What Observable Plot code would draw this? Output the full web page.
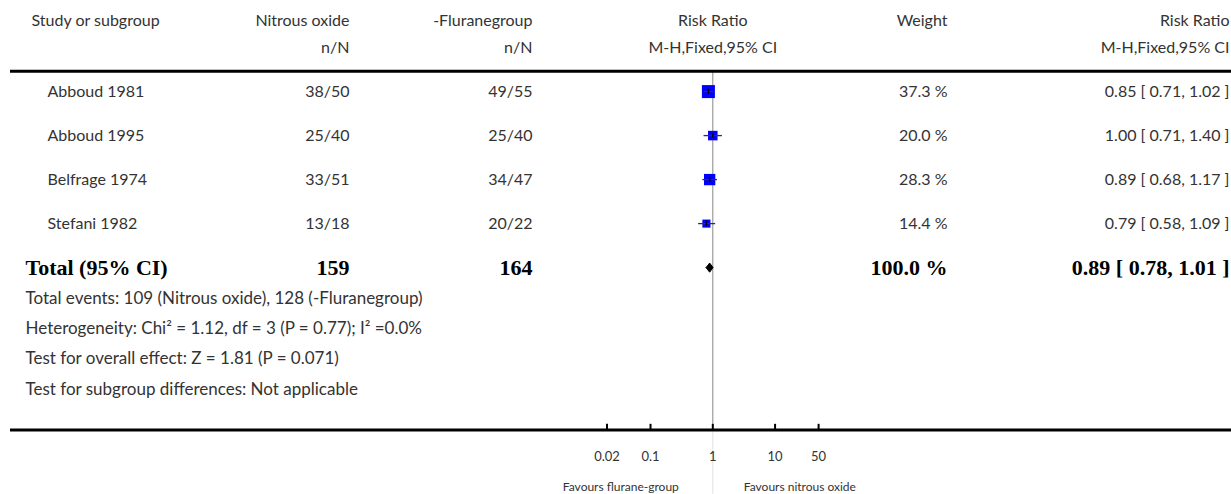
<!DOCTYPE html>
<html>
<head>
<meta charset="utf-8">
<script src="https://cdn.jsdelivr.net/npm/d3@7"></script>
<script src="https://cdn.jsdelivr.net/npm/@observablehq/plot@0.6"></script>
<style>
  html, body { margin: 0; padding: 0; background: #fff; }
  #chart svg { display: block; }
</style>
</head>
<body>
<div id="chart"></div>
<script>
// ---- data ----
const studies = ["Abboud 1981", "Abboud 1995", "Belfrage 1974", "Stefani 1982"];
const nitrousNN = ["38/50", "25/40", "33/51", "13/18"];
const fluraneNN = ["49/55", "25/40", "34/47", "20/22"];
const riskRatio = [0.85, 1.00, 0.89, 0.79];
const ciLow = [0.71, 0.71, 0.68, 0.58];
const ciHigh = [1.02, 1.40, 1.17, 1.09];
const weights = [37.3, 20.0, 28.3, 14.4];
const weightLabels = ["37.3 %", "20.0 %", "28.3 %", "14.4 %"];
const rrLabels = ["0.85 [ 0.71, 1.02 ]", "1.00 [ 0.71, 1.40 ]", "0.89 [ 0.68, 1.17 ]", "0.79 [ 0.58, 1.09 ]"];

const totalLabel = "Total (95% CI)";
const totalNitrous = "159";
const totalFlurane = "164";
const totalRR = 0.89, totalLow = 0.78, totalHigh = 1.01;
const totalWeightLabel = "100.0 %";
const totalRRLabel = "0.89 [ 0.78, 1.01 ]";

const notes = [
  "Total events: 109 (Nitrous oxide), 128 (-Fluranegroup)",
  "Heterogeneity: Chi\u00B2 = 1.12, df = 3 (P = 0.77); I\u00B2 =0.0%",
  "Test for overall effect: Z = 1.81 (P = 0.071)",
  "Test for subgroup differences: Not applicable"
];

const axisTicks = [0.02, 0.1, 1, 10, 50];
const axisTickLabels = ["0.02", "0.1", "1", "10", "50"];
const favoursLeft = "Favours flurane-group";
const favoursRight = "Favours nitrous oxide";

const headers1 = ["Study or subgroup", "Nitrous oxide", "-Fluranegroup", "Risk Ratio", "Weight", "Risk Ratio"];
const headers2 = ["n/N", "n/N", "M-H,Fixed,95% CI", "M-H,Fixed,95% CI"];

// ---- layout (row slots on the vertical line grid) ----
const slot = {h1: 0, h2: 8, top: 15, study0: 21, studyStep: 13, total: 73, note0: 82, noteStep: 9, axis: 121, tickLab: 129, fav: 138, end: 140};

const rows = studies.map((s, i) => ({
  study: s, nit: nitrousNN[i], flu: fluraneNN[i], rr: riskRatio[i], lo: ciLow[i], hi: ciHigh[i],
  w: weights[i], wl: weightLabels[i], rl: rrLabels[i], y: slot.study0 + slot.studyStep * i
}));
const noteRows = notes.map((t, i) => ({t, y: slot.note0 + slot.noteStep * i}));
const tickRows = axisTicks.map((v, i) => ({v, label: axisTickLabels[i]}));
const diamond = [
  {x: totalLow, y: slot.total},
  {x: totalRR, y: slot.total - 1.35},
  {x: totalHigh, y: slot.total},
  {x: totalRR, y: slot.total + 1.35},
  {x: totalLow, y: slot.total}
];

const SANS = "Lato, 'Open Sans', sans-serif";
const SERIF = "'Liberation Serif', 'DejaVu Serif', serif";
const TXT = "#333";
const fs = 16;
const nfs = 17;
const bfs = 22;

function col(data, text, dx, anchor, extra = {}) {
  return Plot.text(data, Object.assign({
    text, y: "y", frameAnchor: "left", dx, textAnchor: anchor,
    fontFamily: SANS, fontSize: fs, fill: TXT
  }, extra));
}
function bold(text, dx, anchor) {
  return Plot.text([{y: slot.total}], {text: () => text, y: "y", frameAnchor: "left", dx, textAnchor: anchor,
    fontFamily: SERIF, fontWeight: "bold", fontSize: bfs, fill: "#000"});
}

const h1 = [{y: slot.h1}];
const h2 = [{y: slot.h2}];

const chart = Plot.plot({
  width: 1231,
  height: 494,
  margin: 0,
  x: {type: "log", domain: [0.02, 50], range: [606.5, 818.1], axis: null},
  y: {domain: [0, slot.end], range: [20, 20 + slot.end * 3.385], axis: null},
  r: {type: "sqrt", domain: [0, 37.3], range: [0, 7.34]},
  marks: [
    // reference line at RR = 1
    Plot.ruleX([1], {y1: slot.top, y2: slot.axis, stroke: "#888", strokeWidth: 1}),
    Plot.ruleX([1], {y1: slot.axis, y2: slot.end, stroke: "#e2e2e2", strokeWidth: 1}),
    // header
    col(h1, () => headers1[0], 31, "start"),
    col(h1, () => headers1[1], 349, "end"),
    col(h1, () => headers1[2], 532, "end"),
    Plot.text(h1, {x: () => 1, y: "y", text: () => headers1[3], fontFamily: SANS, fontSize: fs, fill: TXT}),
    col(h1, () => headers1[4], 947, "end"),
    col(h1, () => headers1[5], 1229, "end"),
    col(h2, () => headers2[0], 349, "end"),
    col(h2, () => headers2[1], 532, "end"),
    Plot.text(h2, {x: () => 1, y: "y", text: () => headers2[2], fontFamily: SANS, fontSize: fs, fill: TXT}),
    col(h2, () => headers2[3], 1229, "end"),
    Plot.ruleY([slot.top], {stroke: "black", strokeWidth: 3, insetLeft: 10}),
    // study rows
    col(rows, "study", 47, "start"),
    col(rows, "nit", 349, "end"),
    col(rows, "flu", 532, "end"),
    col(rows, "wl", 947, "end"),
    col(rows, "rl", 1229, "end"),
    Plot.dot(rows, {x: "rr", y: "y", r: "w", symbol: "square", fill: "#0000ff", stroke: null}),
    Plot.link(rows, {x1: "lo", x2: "hi", y1: "y", y2: "y", stroke: "#333", strokeWidth: 1.3}),
    Plot.ruleX(rows, {x: "rr", y1: d => d.y - 0.7, y2: d => d.y + 0.7, stroke: "#000", strokeWidth: 1.5}),
    // total
    bold(totalLabel, 25, "start"),
    bold(totalNitrous, 349, "end"),
    bold(totalFlurane, 532, "end"),
    bold(totalWeightLabel, 947, "end"),
    bold(totalRRLabel, 1229, "end"),
    Plot.line(diamond, {x: "x", y: "y", fill: "#000", stroke: "#000", strokeWidth: 1, curve: "linear"}),
    // notes
    col(noteRows, "t", 25, "start", {fontSize: nfs}),
    // axis
    Plot.ruleY([slot.axis], {stroke: "black", strokeWidth: 3, insetLeft: 10}),
    Plot.ruleX(tickRows, {x: "v", y1: slot.axis - 1.7, y2: slot.axis, stroke: "black", strokeWidth: 2}),
    Plot.text(tickRows, {x: "v", y: () => slot.tickLab, text: "label", fontFamily: SANS, fontSize: 13, fill: TXT}),
    Plot.text([favoursLeft], {x: () => 1, y: () => slot.fav, text: d => d, dx: -34, textAnchor: "end", fontFamily: SANS, fontSize: 12, fill: TXT}),
    Plot.text([favoursRight], {x: () => 1, y: () => slot.fav, text: d => d, dx: 31, textAnchor: "start", fontFamily: SANS, fontSize: 12, fill: TXT})
  ]
});
document.getElementById("chart").appendChild(chart);
</script>
</body>
</html>
